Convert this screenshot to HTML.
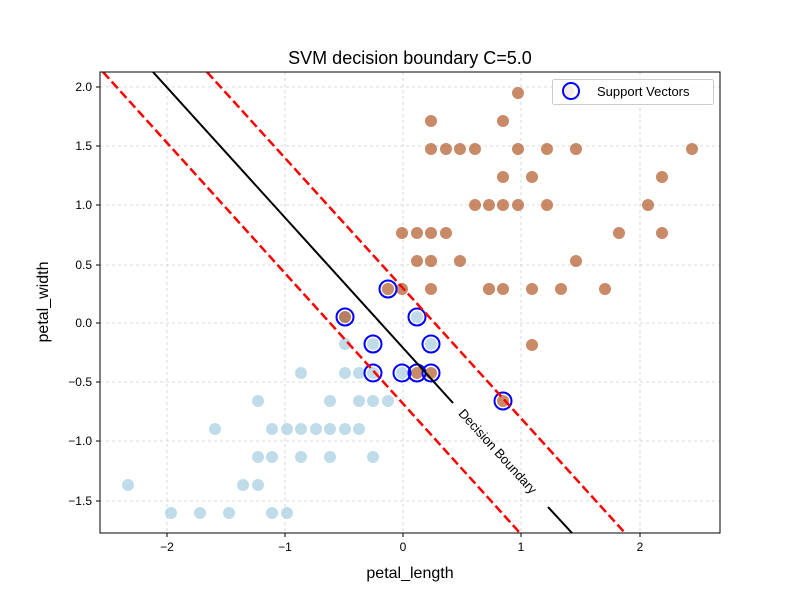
<!DOCTYPE html>
<html><head><meta charset="utf-8"><style>body{margin:0;background:#fff}svg{display:block}text{font-family:"Liberation Sans","DejaVu Sans",sans-serif}</style></head><body>
<svg width="800" height="600" viewBox="0 0 800 600">
<defs><clipPath id="c"><rect x="100" y="72" width="620" height="461"/></clipPath></defs>
<g stroke="#b0b0b0" stroke-width="0.8" stroke-dasharray="3,3" opacity="0.6">
<line x1="167" y1="72" x2="167" y2="533"/><line x1="285" y1="72" x2="285" y2="533"/><line x1="403" y1="72" x2="403" y2="533"/><line x1="521" y1="72" x2="521" y2="533"/><line x1="640" y1="72" x2="640" y2="533"/>
<line x1="100" y1="87" x2="720" y2="87"/><line x1="100" y1="146" x2="720" y2="146"/><line x1="100" y1="205" x2="720" y2="205"/><line x1="100" y1="265" x2="720" y2="265"/><line x1="100" y1="323" x2="720" y2="323"/><line x1="100" y1="382" x2="720" y2="382"/><line x1="100" y1="441" x2="720" y2="441"/><line x1="100" y1="501" x2="720" y2="501"/>
</g>
<g clip-path="url(#c)">
<g fill="#a6cee3" opacity="0.7">
<circle cx="301" cy="373" r="6"/><circle cx="345" cy="373" r="6"/><circle cx="359" cy="373" r="6"/><circle cx="373" cy="373" r="6"/><circle cx="402" cy="373" r="6"/>
<circle cx="345" cy="344" r="6"/><circle cx="373" cy="344" r="6"/><circle cx="431" cy="344" r="6"/><circle cx="345" cy="317" r="6"/><circle cx="417" cy="317" r="6"/>
<circle cx="258" cy="401" r="6"/><circle cx="330" cy="401" r="6"/><circle cx="359" cy="401" r="6"/><circle cx="373" cy="401" r="6"/><circle cx="388" cy="401" r="6"/>
<circle cx="215" cy="429" r="6"/><circle cx="272" cy="429" r="6"/><circle cx="287" cy="429" r="6"/><circle cx="301" cy="429" r="6"/><circle cx="316" cy="429" r="6"/><circle cx="330" cy="429" r="6"/><circle cx="345" cy="429" r="6"/><circle cx="359" cy="429" r="6"/>
<circle cx="258" cy="457" r="6"/><circle cx="272" cy="457" r="6"/><circle cx="301" cy="457" r="6"/><circle cx="330" cy="457" r="6"/><circle cx="373" cy="457" r="6"/>
<circle cx="128" cy="485" r="6"/><circle cx="243" cy="485" r="6"/><circle cx="258" cy="485" r="6"/>
<circle cx="171" cy="513" r="6"/><circle cx="200" cy="513" r="6"/><circle cx="229" cy="513" r="6"/><circle cx="272" cy="513" r="6"/><circle cx="287" cy="513" r="6"/>
</g>
<g fill="#b15928" opacity="0.7">
<circle cx="518" cy="93" r="6"/><circle cx="431" cy="121" r="6"/><circle cx="503" cy="121" r="6"/>
<circle cx="431" cy="149" r="6"/><circle cx="446" cy="149" r="6"/><circle cx="460" cy="149" r="6"/><circle cx="475" cy="149" r="6"/><circle cx="518" cy="149" r="6"/><circle cx="547" cy="149" r="6"/><circle cx="576" cy="149" r="6"/><circle cx="692" cy="149" r="6"/>
<circle cx="503" cy="177" r="6"/><circle cx="532" cy="177" r="6"/><circle cx="662" cy="177" r="6"/>
<circle cx="475" cy="205" r="6"/><circle cx="489" cy="205" r="6"/><circle cx="503" cy="205" r="6"/><circle cx="518" cy="205" r="6"/><circle cx="547" cy="205" r="6"/><circle cx="648" cy="205" r="6"/>
<circle cx="402" cy="233" r="6"/><circle cx="417" cy="233" r="6"/><circle cx="431" cy="233" r="6"/><circle cx="446" cy="233" r="6"/><circle cx="619" cy="233" r="6"/><circle cx="662" cy="233" r="6"/>
<circle cx="417" cy="261" r="6"/><circle cx="431" cy="261" r="6"/><circle cx="431" cy="261" r="6"/><circle cx="460" cy="261" r="6"/><circle cx="576" cy="261" r="6"/>
<circle cx="388" cy="289" r="6"/><circle cx="388" cy="289" r="6"/><circle cx="402" cy="289" r="6"/><circle cx="431" cy="289" r="6"/><circle cx="489" cy="289" r="6"/><circle cx="489" cy="289" r="6"/><circle cx="503" cy="289" r="6"/><circle cx="532" cy="289" r="6"/><circle cx="561" cy="289" r="6"/><circle cx="605" cy="289" r="6"/>
<circle cx="345" cy="317" r="6"/><circle cx="532" cy="345" r="6"/><circle cx="417" cy="373" r="6"/><circle cx="431" cy="373" r="6"/><circle cx="503" cy="401" r="6"/>
</g>
<g fill="none" stroke="#0000ff" stroke-width="2">
<circle cx="388" cy="289" r="8.5"/><circle cx="345" cy="317" r="8.5"/><circle cx="417" cy="317" r="8.5"/><circle cx="373" cy="344" r="8.5"/><circle cx="431" cy="344" r="8.5"/>
<circle cx="373" cy="373" r="8.5"/><circle cx="402" cy="373" r="8.5"/><circle cx="417" cy="373" r="8.5"/><circle cx="431" cy="373" r="8.5"/><circle cx="503" cy="401" r="8.5"/>
</g>
<line x1="153" y1="72" x2="453" y2="403" stroke="#000" stroke-width="2"/>
<line x1="548" y1="507" x2="572" y2="533" stroke="#000" stroke-width="2"/>
<line x1="103" y1="72" x2="520" y2="533" stroke="#f00" stroke-width="2.5" stroke-dasharray="9,4"/>
<line x1="207" y1="72" x2="625" y2="533" stroke="#f00" stroke-width="2.5" stroke-dasharray="9,4"/>
</g>
<text x="0" y="0" font-size="13" text-anchor="middle" dominant-baseline="middle" transform="translate(497,452) rotate(47.7)">Decision Boundary</text>
<rect x="100" y="72" width="620" height="461" fill="none" stroke="#000" stroke-width="1"/>
<g font-size="12" fill="#000" text-anchor="middle">
<line x1="167" y1="533" x2="167" y2="537" stroke="#000"/><text x="167" y="551">−2</text>
<line x1="285" y1="533" x2="285" y2="537" stroke="#000"/><text x="285" y="551">−1</text>
<line x1="403" y1="533" x2="403" y2="537" stroke="#000"/><text x="403" y="551">0</text>
<line x1="521" y1="533" x2="521" y2="537" stroke="#000"/><text x="521" y="551">1</text>
<line x1="640" y1="533" x2="640" y2="537" stroke="#000"/><text x="640" y="551">2</text>
</g>
<g font-size="12" fill="#000" text-anchor="end">
<line x1="96" y1="87" x2="100" y2="87" stroke="#000"/><text x="92" y="91">2.0</text>
<line x1="96" y1="146" x2="100" y2="146" stroke="#000"/><text x="92" y="150">1.5</text>
<line x1="96" y1="205" x2="100" y2="205" stroke="#000"/><text x="92" y="209">1.0</text>
<line x1="96" y1="265" x2="100" y2="265" stroke="#000"/><text x="92" y="269">0.5</text>
<line x1="96" y1="323" x2="100" y2="323" stroke="#000"/><text x="92" y="327">0.0</text>
<line x1="96" y1="382" x2="100" y2="382" stroke="#000"/><text x="92" y="386">−0.5</text>
<line x1="96" y1="441" x2="100" y2="441" stroke="#000"/><text x="92" y="445">−1.0</text>
<line x1="96" y1="501" x2="100" y2="501" stroke="#000"/><text x="92" y="505">−1.5</text>
</g>
<text x="410" y="578" font-size="16" text-anchor="middle">petal_length</text>
<text x="0" y="0" font-size="16" text-anchor="middle" transform="translate(48,302) rotate(-90)">petal_width</text>
<text x="410" y="64" font-size="18" text-anchor="middle">SVM decision boundary C=5.0</text>
<rect x="552.5" y="79.5" width="161" height="25" rx="2" fill="#fff" fill-opacity="0.8" stroke="#ccc"/>
<circle cx="568" cy="91" r="6" fill="#b15928" opacity="0.12"/>
<circle cx="571" cy="91" r="8" fill="none" stroke="#0000ff" stroke-width="2"/>
<text x="597" y="96" font-size="13">Support Vectors</text>
</svg>
</body></html>
